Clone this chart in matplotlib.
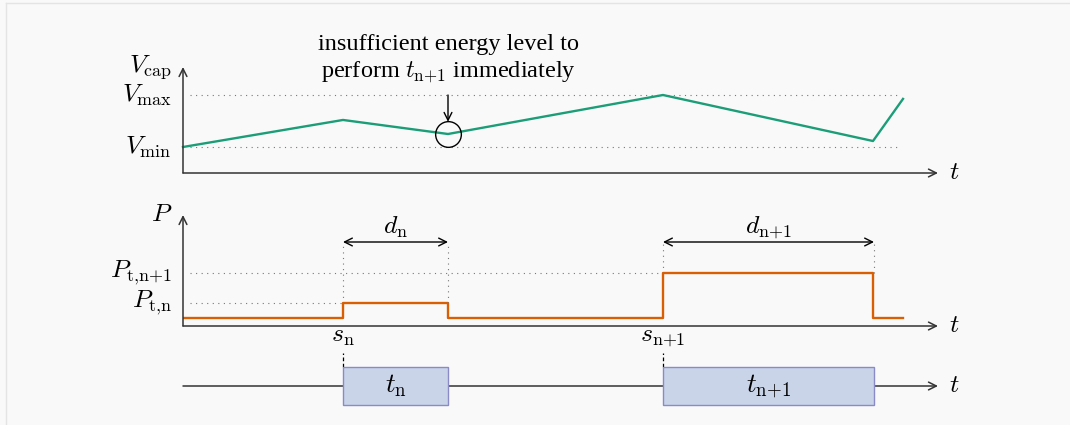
import matplotlib
matplotlib.use("Agg")
import matplotlib.pyplot as plt
from matplotlib.patches import Rectangle

plt.rcParams['mathtext.fontset'] = 'cm'
plt.rcParams['font.family'] = ['Liberation Serif', 'DejaVu Serif']

# ---------------------------------------------------------------- data
# time points (arbitrary units)
t_cap = [0, 16, 26.5, 48, 69, 72]
v_cap = [1.0, 2.04, 1.5, 3.0, 1.23, 2.85]
v_min = 1.0
v_max = 3.0
v_low = 1.5          # the point where energy is too low to start t_n+1

t_pow = [0, 16, 26.5, 48, 69, 72]
p_pow = [0.8, 2.3, 0.8, 5.3, 0.8, 0.8]
p_tn = 2.3
p_tn1 = 5.3
d_level = 8.4

task_start = [16, 48]
task_end = [26.5, 69.1]
task_names = [r'$t_\mathrm{n}$', r'$t_\mathrm{n{+}1}$']
start_names = [r'$s_\mathrm{n}$', r'$s_\mathrm{n{+}1}$']
dur_names = [r'$d_\mathrm{n}$', r'$d_\mathrm{n{+}1}$']

GREEN = '#1b9e77'
ORANGE = '#d95f02'
AX = '#333333'
DOT = '#777777'
FS = 18.5
TFS = 17.5

W, H = 1070, 425
fig = plt.figure(figsize=(W / 100, H / 100), dpi=100, facecolor='#f9f9f9')

# faint frame of the page
fig.add_artist(plt.Line2D([6 / W, 6 / W], [0, 1 - 3 / H], color='#e4e4e4', lw=1))
fig.add_artist(plt.Line2D([6 / W, 1], [1 - 3 / H, 1 - 3 / H], color='#e4e4e4', lw=1))


def make_ax(top_px, bot_px, ylo, yhi):
    ax = fig.add_axes([183 / W, 1 - bot_px / H, 755 / W, (bot_px - top_px) / H])
    ax.set_xlim(0, 75.5)
    ax.set_ylim(ylo, yhi)
    ax.axis('off')
    ax.patch.set_alpha(0)
    return ax


def axis_arrows(ax, ytop, ylabel):
    arr = dict(arrowstyle='->', color=AX, lw=1.1, shrinkA=0, shrinkB=0,
               mutation_scale=14)
    ax.annotate('', xy=(75.5, 0), xytext=(0, 0), arrowprops=arr)
    ax.text(76.6, 0, r'$t$', fontsize=FS, ha='left', va='center')
    if ytop is not None:
        ax.annotate('', xy=(0, ytop), xytext=(0, 0), arrowprops=arr)
        ax.text(-1.1, ytop, ylabel, fontsize=FS, ha='right', va='center')


dots = dict(color=DOT, lw=0.8, ls=(0, (1, 4)))

# ---------------------------------------------------------------- capacitor voltage
ax1 = make_ax(67, 173, 0, 106 / 26)
axis_arrows(ax1, 106 / 26, r'$V_\mathrm{cap}$')
for v, lab in [(v_max, r'$V_\mathrm{max}$'), (v_min, r'$V_\mathrm{min}$')]:
    ax1.plot([0.7, 71.5], [v, v], **dots)
    ax1.text(-1.1, v, lab, fontsize=FS, ha='right', va='center')
ax1.plot(t_cap, v_cap, color=GREEN, lw=1.7, clip_on=False)
ax1.plot([26.5], [v_low], marker='o', ms=18.5, mfc='none', mec='black', mew=1.0)
ax1.annotate('', xy=(26.5, v_low + 0.47), xytext=(26.5, v_max),
             arrowprops=dict(arrowstyle='->', color='black', lw=1.0,
                             shrinkA=0, shrinkB=0, mutation_scale=14))
ax1.text(26.5, 4.95, 'insufficient energy level to', fontsize=TFS,
         ha='center', va='center')
ax1.text(26.5, 3.88, r'perform $t_\mathrm{n{+}1}$ immediately', fontsize=TFS,
         ha='center', va='center')

# ---------------------------------------------------------------- power
ax2 = make_ax(215, 326, 0, 11.1)
axis_arrows(ax2, 11.1, r'$P$')
ax2.plot([0.7, task_start[0]], [p_tn, p_tn], **dots)
ax2.plot([0.7, task_start[1]], [p_tn1, p_tn1], **dots)
ax2.text(-1.1, p_tn, r'$P_\mathrm{t{,}n}$', fontsize=FS, ha='right', va='center')
ax2.text(-1.1, p_tn1, r'$P_\mathrm{t{,}n{+}1}$', fontsize=FS, ha='right', va='center')
ax2.plot(t_pow, p_pow, color=ORANGE, lw=1.7, drawstyle='steps-post')

for s, e, top, dlab, slab in zip(task_start, task_end, [p_tn, p_tn1],
                                 dur_names, start_names):
    ax2.plot([s, s], [top, d_level], **dots)
    ax2.plot([e, e], [top, d_level], **dots)
    ax2.annotate('', xy=(e, d_level), xytext=(s, d_level),
                 arrowprops=dict(arrowstyle='<->', color='black', lw=1.0,
                                 shrinkA=0, shrinkB=0, mutation_scale=14))
    ax2.text((s + e) / 2, 9.9, dlab, fontsize=FS, ha='center', va='center')
    ax2.text(s, -1.1, slab, fontsize=FS, ha='center', va='center')

# ---------------------------------------------------------------- schedule
ax3 = make_ax(350, 410, -2.4, 3.6)
axis_arrows(ax3, None, None)
for s, e, name in zip(task_start, task_end, task_names):
    ax3.add_patch(Rectangle((s, -1.9), e - s, 3.8, facecolor='#c9d4e8',
                            edgecolor='#8a8ac6', lw=1.0, zorder=3))
    ax3.text((s + e) / 2, 0, name, fontsize=FS + 1, ha='center', va='center',
             zorder=4)
    ax3.plot([s, s], [1.9, 3.3], color='black', lw=0.9, ls=(0, (3, 2)))

fig.savefig('out.png', dpi=100, facecolor=fig.get_facecolor())
